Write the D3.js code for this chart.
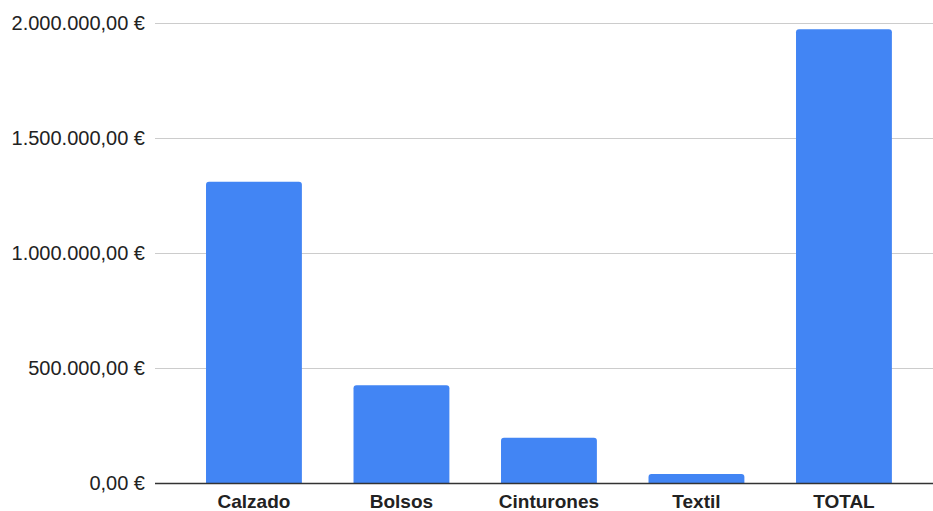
<!DOCTYPE html>
<html>
<head>
<meta charset="utf-8">
<script src="https://cdn.jsdelivr.net/npm/d3@7"></script>
<style>
  body { margin: 0; background: #fff; }
  svg { display: block; font-family: "Liberation Sans", Arial, sans-serif; }
</style>
</head>
<body>
<svg id="chart" width="933" height="511"></svg>
<script>
// datos
let categorias = ['Calzado', 'Bolsos', 'Cinturones', 'Textil', 'TOTAL'];
let valores = [1310000, 427000, 199000, 41000, 1973000];
let ticks = [0, 500000, 1000000, 1500000, 2000000];

let W = 933, H = 511;
let svg = d3.select('#chart');

let y = d3.scaleLinear()
    .domain([0, 2000000])
    .range([483.5, 23]);

let x = d3.scaleBand()
    .domain(categorias)
    .range([180.2, 917.7])
    .paddingInner(0.35)
    .paddingOuter(0.175);

let fmt = function (d) {
    let s = d3.format(',.2f')(d);
    // formato español: 2.000.000,00 €
    s = s.replace(/,/g, '#').replace('.', ',').replace(/#/g, '.');
    return s + ' €';
};

// eje y
let yAxis = d3.axisLeft(y)
    .tickValues(ticks)
    .tickFormat(fmt)
    .tickSize(0)
    .tickPadding(10);

let gy = svg.append('g')
    .attr('transform', 'translate(155,0)')
    .call(yAxis);
gy.select('.domain').remove();
gy.selectAll('text')
    .attr('font-size', 20)
    .attr('fill', '#222')
    .attr('font-family', '"Liberation Sans", Arial, sans-serif');

// grid
svg.append('g').selectAll('line')
    .data(ticks.filter(d => d > 0))
    .enter().append('line')
    .attr('x1', 155).attr('x2', W)
    .attr('y1', d => Math.round(y(d)) + 0.5)
    .attr('y2', d => Math.round(y(d)) + 0.5)
    .attr('stroke', '#cccccc')
    .attr('stroke-width', 1);

// barras con esquinas superiores redondeadas
let r = 3;
svg.append('g').selectAll('path')
    .data(valores)
    .enter().append('path')
    .attr('fill', '#4285f4')
    .attr('d', function (d, i) {
        let x0 = x(categorias[i]), w = x.bandwidth();
        let y0 = y(d), yb = y(0);
        return `M${x0},${yb} V${y0 + r} Q${x0},${y0} ${x0 + r},${y0}` +
            ` H${x0 + w - r} Q${x0 + w},${y0} ${x0 + w},${y0 + r} V${yb} Z`;
    });

// linea base
svg.append('line')
    .attr('x1', 155).attr('x2', W)
    .attr('y1', y(0)).attr('y2', y(0))
    .attr('stroke', '#333')
    .attr('stroke-width', 1.3);

// etiquetas de categoria
svg.append('g').selectAll('text')
    .data(categorias)
    .enter().append('text')
    .attr('x', d => x(d) + x.bandwidth() / 2)
    .attr('y', 507.5)
    .attr('text-anchor', 'middle')
    .attr('font-size', 19)
    .attr('font-weight', 'bold')
    .attr('fill', '#222')
    .text(d => d);
</script>
</body>
</html>
